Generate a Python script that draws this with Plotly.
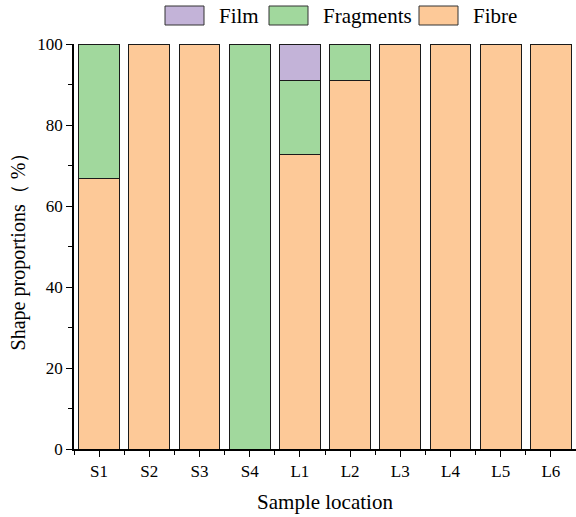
import plotly.graph_objects as go

# Sample sites and the share of each microplastic shape (%)
locations = ["S1", "S2", "S3", "S4", "L1", "L2", "L3", "L4", "L5", "L6"]
fibre = [66.7, 100, 100, 0, 72.7, 90.9, 100, 100, 100, 100]
fragments = [33.3, 0, 0, 100, 18.2, 9.1, 0, 0, 0, 0]
film = [0, 0, 0, 0, 9.1, 0, 0, 0, 0, 0]

series_names = ["Film", "Fragments", "Fibre"]
series_colors = {"Film": "#c3b3d8", "Fragments": "#a1d89d", "Fibre": "#fdc998"}

FONT = "Liberation Serif, Times New Roman, serif"
xpos = list(range(len(locations)))

fig = go.Figure()
# stacked bottom to top: fibre, fragments, film
for name, vals in [("Fibre", fibre), ("Fragments", fragments), ("Film", film)]:
    fig.add_trace(go.Bar(
        x=xpos, y=vals, name=name, width=0.81,
        marker=dict(color=series_colors[name], line=dict(color="#1a1a1a", width=1)),
        showlegend=False,
    ))

# legend row drawn above the plot with wide swatches
legend_items = [
    ("Film", 165, 218),
    ("Fragments", 269, 322),
    ("Fibre", 419, 472),
]
L, T, W, H = 74, 44, 502, 405

def px_x(p):
    return (p - L) / W

def px_y(p):
    return (T + H - p) / H

shapes = []
annotations = []
for name, sx, tx in legend_items:
    shapes.append(dict(type="rect", xref="paper", yref="paper",
                       x0=px_x(sx), x1=px_x(sx + 39), y0=px_y(25), y1=px_y(6),
                       fillcolor=series_colors[name], line=dict(color="#333333", width=1)))
    annotations.append(dict(text=name, xref="paper", yref="paper", x=px_x(tx - 1), y=px_y(16),
                            xanchor="left", yanchor="middle", showarrow=False,
                            font=dict(family=FONT, size=21, color="black")))

fig.update_layout(
    barmode="stack",
    width=576, height=517,
    margin=dict(l=L, r=0, t=T, b=517 - T - H),
    paper_bgcolor="white", plot_bgcolor="white",
    font=dict(family=FONT, size=17, color="black"),
    shapes=shapes, annotations=annotations,
)
fig.update_xaxes(
    range=[-0.5, len(locations) - 0.5],
    tickmode="array", tickvals=xpos, ticktext=locations,
    ticks="outside", ticklen=6, tickwidth=1.2, tickcolor="black",
    minor=dict(tickmode="array", tickvals=[i - 0.5 for i in range(len(locations) + 1)],
               ticks="outside", ticklen=4, tickwidth=1.2, tickcolor="black"),
    showline=True, linecolor="black", linewidth=1.5,
    showgrid=False, zeroline=False,
    tickfont=dict(family=FONT, size=17),
    title=dict(text="Sample location", font=dict(family=FONT, size=21), standoff=14),
)
fig.update_yaxes(
    range=[0, 100],
    tickmode="array", tickvals=[0, 20, 40, 60, 80, 100],
    ticks="outside", ticklen=6, tickwidth=1.2, tickcolor="black",
    minor=dict(tickmode="array", tickvals=[10, 30, 50, 70, 90],
               ticks="outside", ticklen=4, tickwidth=1.2, tickcolor="black"),
    showline=True, linecolor="black", linewidth=1.5,
    showgrid=False, zeroline=False,
    tickfont=dict(family=FONT, size=17),
    title=dict(text="Shape proportions（ %）", font=dict(family=FONT, size=20), standoff=6),
)

fig.write_html("out.html")
